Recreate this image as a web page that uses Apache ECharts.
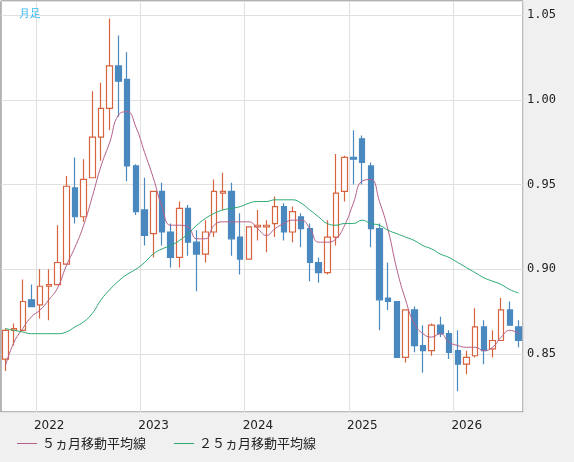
<!DOCTYPE html>
<html><head><meta charset="utf-8">
<script src="https://cdn.jsdelivr.net/npm/echarts@6/dist/echarts.min.js"></script>
<style>html,body{margin:0;padding:0;background:#f0f0f0}#c{width:574px;height:462px}</style>
</head><body><div id="c"></div>
<script>
const months = [];
for (let i = 0; i < 60; i++) { const y = 2021 + Math.floor((8 + i) / 12); const m = (8 + i) % 12 + 1; months.push(y + '-' + String(m).padStart(2, '0')); }
const opens  = [0.847,0.864,0.864,0.882,0.879,0.890,0.891,0.903,0.948,0.931,0.954,0.978,0.995,1.020,1.012,0.961,0.935,0.921,0.946,0.922,0.907,0.936,0.916,0.909,0.922,0.945,0.946,0.919,0.906,0.925,0.925,0.927,0.937,0.922,0.931,0.924,0.904,0.898,0.919,0.946,0.966,0.977,0.961,0.924,0.883,0.881,0.848,0.876,0.855,0.852,0.867,0.862,0.852,0.844,0.849,0.866,0.853,0.858,0.876,0.866];
const closes = [0.864,0.865,0.881,0.878,0.890,0.891,0.904,0.949,0.931,0.953,0.978,0.995,1.020,1.011,0.961,0.934,0.920,0.946,0.922,0.907,0.936,0.916,0.909,0.922,0.946,0.946,0.918,0.906,0.925,0.926,0.926,0.937,0.922,0.934,0.924,0.904,0.898,0.919,0.945,0.966,0.965,0.963,0.924,0.882,0.881,0.848,0.876,0.855,0.852,0.867,0.862,0.851,0.844,0.848,0.866,0.852,0.858,0.876,0.867,0.858];
const lows   = [0.840,0.855,0.864,0.878,0.871,0.870,0.891,0.903,0.927,0.928,0.954,0.964,0.982,0.990,0.952,0.932,0.914,0.907,0.914,0.901,0.901,0.908,0.887,0.904,0.919,0.935,0.908,0.897,0.906,0.917,0.910,0.919,0.917,0.916,0.913,0.893,0.892,0.897,0.914,0.940,0.950,0.950,0.913,0.864,0.876,0.848,0.845,0.851,0.839,0.849,0.860,0.847,0.828,0.838,0.848,0.844,0.848,0.858,0.867,0.854];
const highs  = [0.865,0.868,0.894,0.891,0.900,0.900,0.926,0.955,0.966,0.965,1.005,1.010,1.048,1.038,1.028,0.962,0.954,0.946,0.951,0.927,0.940,0.938,0.923,0.929,0.953,0.957,0.951,0.933,0.925,0.935,0.929,0.943,0.939,0.937,0.933,0.927,0.907,0.929,0.968,0.967,0.982,0.979,0.963,0.927,0.904,0.881,0.876,0.878,0.867,0.868,0.872,0.864,0.864,0.852,0.877,0.870,0.864,0.883,0.881,0.870];
const ma5  = [0.843,0.857,0.865,0.872,0.876,0.882,0.889,0.902,0.913,0.926,0.943,0.961,0.975,0.991,0.993,0.984,0.969,0.954,0.937,0.926,0.926,0.925,0.918,0.918,0.926,0.928,0.928,0.928,0.928,0.924,0.920,0.924,0.927,0.929,0.929,0.924,0.916,0.916,0.918,0.926,0.939,0.952,0.953,0.940,0.923,0.900,0.882,0.868,0.862,0.860,0.862,0.857,0.855,0.854,0.854,0.852,0.854,0.860,0.864,0.862];
const ma25 = [0.865,0.864,0.863,0.862,0.862,0.862,0.862,0.863,0.866,0.869,0.874,0.882,0.888,0.893,0.897,0.900,0.904,0.909,0.912,0.914,0.917,0.921,0.926,0.930,0.933,0.935,0.936,0.937,0.939,0.940,0.940,0.941,0.941,0.941,0.939,0.935,0.931,0.927,0.926,0.927,0.927,0.929,0.927,0.926,0.923,0.921,0.919,0.917,0.914,0.912,0.909,0.907,0.904,0.901,0.898,0.895,0.893,0.891,0.888,0.886];
const seriesNames = ['５ヵ月移動平均線', '２５ヵ月移動平均線'];
const periodLabel = '月足';

const ohlc = months.map((m, i) => [opens[i], closes[i], lows[i], highs[i]]);
const isJan = (i, v) => v.endsWith('-01');
const chart = echarts.init(document.getElementById('c'));
chart.setOption({
  animation: false,
  backgroundColor: '#f0f0f0',
  title: { text: periodLabel, left: 14, top: 3, textStyle: { color: '#33b5f0', fontSize: 11, fontWeight: 'normal' } },
  legend: { left: 12, bottom: 7, icon: 'rect', itemWidth: 20, itemHeight: 1, itemGap: 28,
    textStyle: { fontSize: 13, color: '#222', fontFamily: 'Noto Sans CJK JP' }, data: seriesNames },
  grid: { left: 1, right: 51, top: 1, bottom: 50, show: true, backgroundColor: '#fff', borderColor: '#777', borderWidth: 1 },
  xAxis: { type: 'category', data: months, boundaryGap: true,
    axisLine: { show: false }, axisTick: { show: false },
    axisLabel: { interval: isJan, formatter: v => v.slice(0, 4), color: '#222', fontSize: 12, margin: 8, padding: [0, 0, 0, 18], fontFamily: 'DejaVu Sans' },
    splitLine: { show: true, interval: isJan, lineStyle: { color: '#e0e0e0' } } },
  yAxis: { type: 'value', position: 'right', min: 0.8158, max: 1.0583, splitNumber: 5,
    axisLine: { show: false }, axisTick: { show: false },
    axisLabel: { color: '#222', fontSize: 12, margin: 4, fontFamily: 'DejaVu Sans Mono', formatter: v => v.toFixed(2),
      showMinLabel: false, showMaxLabel: false },
    splitLine: { lineStyle: { color: '#e0e0e0' } } },
  series: [
    { type: 'candlestick', data: ohlc, barWidth: 6,
      itemStyle: { color: '#ffffff', color0: '#4a89bf', borderColor: '#d8633f', borderColor0: '#4a89bf', borderWidth: 1.2 } },
    { name: seriesNames[0], type: 'line', data: ma5, symbol: 'none', smooth: true, lineStyle: { color: '#b5608a', width: 1 }, itemStyle: { color: '#b5608a' } },
    { name: seriesNames[1], type: 'line', data: ma25, symbol: 'none', smooth: true, lineStyle: { color: '#2aa870', width: 1 }, itemStyle: { color: '#2aa870' } }
  ]
});
</script></body></html>
